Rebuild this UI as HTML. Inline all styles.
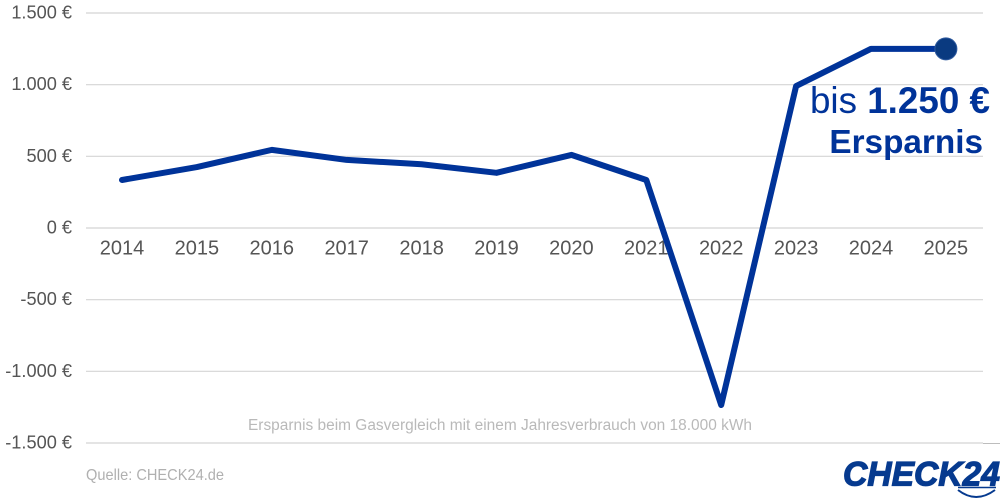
<!DOCTYPE html>
<html lang="de">
<head>
<meta charset="utf-8">
<title>Ersparnis beim Gasvergleich</title>
<style>
  html, body { margin: 0; padding: 0; background: #fff; }
  body { width: 1000px; height: 504px; overflow: hidden; }
  svg { display: block; font-family: "Liberation Sans", sans-serif; }
</style>
</head>
<body>
<svg id="chart" width="1000" height="504" viewBox="0 0 1000 504" xmlns="http://www.w3.org/2000/svg">
  <g id="grid"></g>
  <g id="ytick-labels"></g>
  <g id="xtick-labels"></g>
  <g id="series"></g>
  <text x="990" y="113" text-anchor="end" font-size="36.8" fill="#003399">bis <tspan font-weight="700">1.250 €</tspan></text>
  <text x="983" y="153" text-anchor="end" font-size="33.3" font-weight="700" fill="#003399">Ersparnis</text>
  <text x="500" y="430" text-anchor="middle" font-size="15.5" fill="#b9b9b9" textLength="504" lengthAdjust="spacingAndGlyphs">Ersparnis beim Gasvergleich mit einem Jahresverbrauch von 18.000 kWh</text>
  <text x="86" y="480" font-size="16" fill="#b0b0b0" textLength="138" lengthAdjust="spacingAndGlyphs">Quelle: CHECK24.de</text>
  <line x1="983" y1="443.5" x2="1000" y2="443.5" stroke="#bdbdbd" stroke-width="1"/>
  <g>
    <text x="843" y="485.5" font-size="34" font-weight="700" font-style="italic" fill="#063a8f" stroke="#063a8f" stroke-width="1.2" textLength="157" lengthAdjust="spacingAndGlyphs">CHECK24</text>
    <line x1="958" y1="487.5" x2="996" y2="487.5" stroke="#063a8f" stroke-width="1.6"/>
    <path d="M958 490 Q976 504 995 490" fill="none" stroke="#063a8f" stroke-width="2"/>
  </g>
</svg>
<script>
const years = ["2014","2015","2016","2017","2018","2019","2020","2021","2022","2023","2024","2025"];
const savings = [335,425,545,475,445,385,510,335,-1235,990,1250,1250];
const yTicks = [1500,1000,500,0,-500,-1000,-1500];
const yTickLabels = ["1.500 €","1.000 €","500 €","0 €","-500 €","-1.000 €","-1.500 €"];

const NS = "http://www.w3.org/2000/svg";
const plotLeft = 86, plotRight = 983, plotTop = 13, plotBottom = 443;
const bandStart = 84.55, bandWidth = 74.9;
const yMax = 1500, yMin = -1500;

function xScale(i) {
  return bandStart + bandWidth * (i + 0.5);
}
function yScale(v) {
  return plotTop + (yMax - v) / (yMax - yMin) * (plotBottom - plotTop);
}
function make(tag, attrs, parent) {
  const el = document.createElementNS(NS, tag);
  for (const k in attrs) el.setAttribute(k, attrs[k]);
  parent.appendChild(el);
  return el;
}

const grid = document.getElementById("grid");
const yLabels = document.getElementById("ytick-labels");
yTicks.forEach(function (t, i) {
  const y = yScale(t);
  const line = make("line", { x1: plotLeft, x2: plotRight, y1: y, y2: y, stroke: "#d4d4d4", "stroke-width": 1.2 }, grid);
  
  
  const label = make("text", { x: 72, y: y + 5.5, "text-anchor": "end", "font-size": 18.2, fill: "#555555" }, yLabels);
  
  
  label.textContent = yTickLabels[i];
});

const xLabels = document.getElementById("xtick-labels");
years.forEach(function (yr, i) {
  const label = make("text", { x: xScale(i), y: 254.5, "text-anchor": "middle", "font-size": 20, fill: "#555555" }, xLabels);
  
  
  label.textContent = yr;
});

const series = document.getElementById("series");
const pts = savings.map(function (v, i) { return xScale(i) + "," + yScale(v); }).join(" ");
const poly = make("polyline", { points: pts, fill: "none", stroke: "#003399", "stroke-width": 6, "stroke-linejoin": "round", "stroke-linecap": "round" }, series);


const last = savings.length - 1;
const dot = make("circle", { cx: xScale(last), cy: yScale(savings[last]), r: 11, fill: "#0a3a80", stroke: "#2f5a9e", "stroke-width": 1 }, series);


</script>
</body>
</html>
